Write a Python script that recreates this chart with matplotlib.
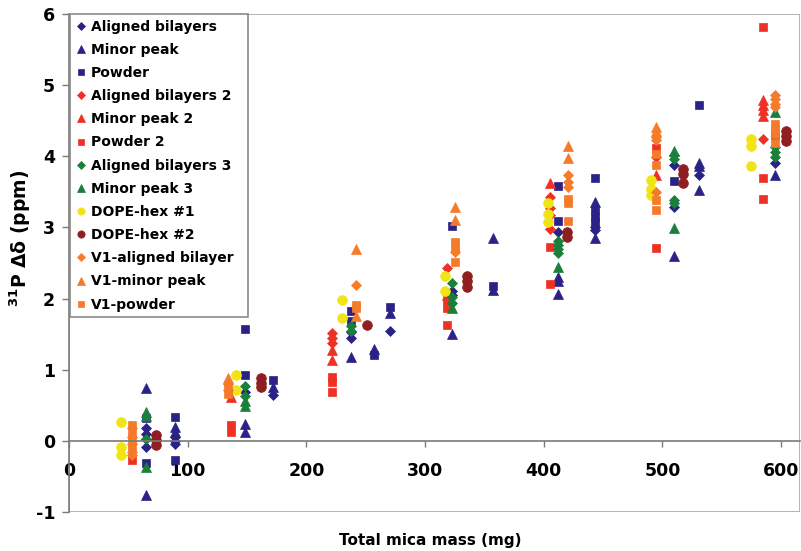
import matplotlib
matplotlib.use("Agg")
import matplotlib.pyplot as plt
from matplotlib.patches import Rectangle

plt.rcParams["font.family"] = ["DejaVu Sans"]
plt.rcParams["mathtext.default"] = "bf"
plt.rcParams["axes.unicode_minus"] = False

# ---- data: total mica mass (mg) vs 31P chemical shift difference (ppm) ----
ab1_x = [64.7, 64.7, 64.7, 64.7, 89, 89, 89, 148.5, 172, 238, 238, 270.6, 322.8, 322.8,
         411.8, 443, 443, 510, 510, 531, 594.7]
ab1_y = [0.18, 0.10, 0.03, -0.08, 0.06, 0.00, -0.04, 0.68, 0.65, 1.53, 1.45, 1.54, 2.10, 2.05,
         2.94, 2.96, 3.00, 3.88, 3.29, 3.74, 3.91]

mp1_x = [64.7, 64.7, 89, 89, 148.5, 148.5, 172, 238, 257, 270.6, 322.8, 357.4, 357.4,
         411.8, 411.8, 411.8, 443, 443, 510, 531, 531, 531, 594.7]
mp1_y = [0.74, -0.76, 0.20, 0.13, 0.24, 0.13, 0.76, 1.18, 1.29, 1.80, 1.50, 2.85, 2.12,
         2.31, 2.24, 2.07, 3.36, 2.85, 2.60, 3.91, 3.86, 3.52, 3.74]

pw1_x = [64.7, 64.7, 89, 89, 148.5, 148.5, 172, 238, 238, 257, 270.6, 322.8, 357.4,
         411.8, 411.8, 443, 443, 443, 443, 510, 531, 594.7]
pw1_y = [0.32, -0.31, 0.34, -0.27, 1.57, 0.92, 0.85, 1.82, 1.68, 1.21, 1.88, 3.02, 2.17,
         3.58, 3.09, 3.70, 3.24, 3.15, 3.08, 3.65, 4.72, 4.30]

ab2_x = [221.6, 221.6, 221.6, 318.6, 405, 405, 405, 405, 494.4, 584.6]
ab2_y = [1.51, 1.44, 1.37, 2.43, 3.43, 3.28, 3.18, 2.98, 3.99, 4.25]

mp2_x = [136.7, 221.6, 221.6, 318.6, 405, 494.4, 584.6, 584.6, 584.6, 584.6]
mp2_y = [0.62, 1.28, 1.14, 2.05, 3.62, 3.74, 4.79, 4.72, 4.65, 4.56]

pw2_x = [53.5, 136.7, 136.7, 221.6, 221.6, 221.6, 318.6, 318.6, 318.6, 405, 405,
         494.4, 494.4, 584.6, 584.6, 584.6]
pw2_y = [-0.27, 0.22, 0.13, 0.90, 0.83, 0.69, 1.98, 1.87, 1.63, 2.73, 2.20,
         4.11, 2.71, 5.82, 3.70, 3.40]

ab3_x = [64.7, 148.5, 148.5, 238, 238, 322.8, 322.8, 322.8, 411.8, 411.8, 411.8, 411.8,
         510, 510, 510, 510, 594.7, 594.7, 594.7]
ab3_y = [0.02, 0.77, 0.63, 1.62, 1.55, 2.22, 2.02, 1.94, 2.81, 2.75, 2.70, 2.64,
         4.02, 3.96, 3.38, 3.34, 4.13, 4.06, 3.99]

mp3_x = [64.7, 64.7, 64.7, 148.5, 148.5, 322.8, 411.8, 510, 510, 594.7]
mp3_y = [0.40, 0.35, -0.37, 0.56, 0.49, 1.87, 2.45, 4.08, 2.99, 4.62]

dope1_x = [43.4, 43.4, 43.4, 141, 141, 230, 230, 316.8, 316.8, 404, 404, 404,
           490.5, 490.5, 490.5, 574.5, 574.5, 574.5]
dope1_y = [0.26, -0.08, -0.20, 0.93, 0.72, 1.98, 1.72, 2.32, 2.10, 3.35, 3.19, 3.08,
           3.67, 3.54, 3.46, 4.24, 4.15, 3.86]

dope2_x = [73, 73, 73, 162, 162, 162, 251, 335, 335, 335, 419.5, 419.5,
           517, 517, 517, 604, 604, 604]
dope2_y = [0.08, 0.01, -0.06, 0.88, 0.81, 0.76, 1.63, 2.32, 2.24, 2.16, 2.93, 2.87,
           3.82, 3.75, 3.62, 4.36, 4.28, 4.22]

v1ab_x = [53.5, 53.5, 53.5, 53.5, 53.5, 134, 134, 242, 325, 420.5, 420.5, 420.5,
          494.4, 494.4, 494.4, 594.7, 594.7, 594.7, 594.7]
v1ab_y = [0.18, 0.05, -0.05, -0.15, -0.20, 0.80, 0.72, 2.19, 2.66, 3.74, 3.64, 3.57,
          4.27, 4.23, 3.50, 4.86, 4.80, 4.74, 4.69]

v1mp_x = [134, 242, 242, 325, 325, 420.5, 420.5, 494.4, 494.4]
v1mp_y = [0.88, 2.69, 1.75, 3.29, 3.10, 4.14, 3.98, 4.41, 4.35]

v1pw_x = [53.5, 53.5, 53.5, 53.5, 134, 134, 242, 242, 325, 325, 325, 420.5, 420.5, 420.5,
          494.4, 494.4, 494.4, 494.4, 594.7, 594.7, 594.7, 594.7]
v1pw_y = [0.22, 0.12, 0.02, -0.08, 0.76, 0.66, 1.91, 1.87, 2.80, 2.73, 2.51, 3.40, 3.34, 3.09,
          4.03, 3.88, 3.38, 3.24, 4.46, 4.39, 4.32, 4.19]

x_ticks = [0, 100, 200, 300, 400, 500, 600]
y_ticks = [-1, 0, 1, 2, 3, 4, 5, 6]

NAVY = "#2B2288"
RED = "#EE3124"
GREEN = "#1A7F3A"
YELLOW = "#F2E414"
BROWN = "#8E1E20"
ORANGE = "#F47B2A"

series = [
    ("Aligned bilayers", ab1_x, ab1_y, NAVY, "D", 5.0),
    ("Minor peak", mp1_x, mp1_y, NAVY, "^", 7.0),
    ("Powder", pw1_x, pw1_y, NAVY, "s", 6.0),
    ("Aligned bilayers 2", ab2_x, ab2_y, RED, "D", 5.0),
    ("Minor peak 2", mp2_x, mp2_y, RED, "^", 7.0),
    ("Powder 2", pw2_x, pw2_y, RED, "s", 6.0),
    ("Aligned bilayers 3", ab3_x, ab3_y, GREEN, "D", 5.0),
    ("Minor peak 3", mp3_x, mp3_y, GREEN, "^", 7.0),
    ("DOPE-hex #1", dope1_x, dope1_y, YELLOW, "o", 7.0),
    ("DOPE-hex #2", dope2_x, dope2_y, BROWN, "o", 7.0),
    ("V1-aligned bilayer", v1ab_x, v1ab_y, ORANGE, "D", 5.0),
    ("V1-minor peak", v1mp_x, v1mp_y, ORANGE, "^", 7.0),
    ("V1-powder", v1pw_x, v1pw_y, ORANGE, "s", 6.0),
]

W, H = 801, 551
ax_l, ax_r, ax_t, ax_b = 69, 800, 14, 512

fig = plt.figure(figsize=(W / 100, H / 100), dpi=100)
ax = fig.add_axes([ax_l / W, 1 - ax_b / H, (ax_r - ax_l) / W, (ax_b - ax_t) / H])

for label, xs, ys, color, marker, size in series:
    ax.plot(xs, ys, linestyle="none", marker=marker, markersize=size,
            color=color, markeredgecolor=color, markeredgewidth=0.5, label=label)

ax.set_xlim(0, 616)
ax.set_ylim(-1, 6)

# x axis crosses at y = 0; left axis stays at x = 0
for side in ("top", "right"):
    ax.spines[side].set_visible(False)
ax.spines["bottom"].set_position(("data", 0))
ax.spines["bottom"].set_color("#7a7a7a")
ax.spines["left"].set_color("#7a7a7a")
ax.spines["bottom"].set_linewidth(1.2)
ax.spines["left"].set_linewidth(1.2)

# plot-area border
ax.add_patch(Rectangle((0, 0), 1, 1, transform=ax.transAxes, fill=False,
                       edgecolor="#a8a8a8", linewidth=1.2, zorder=0.5))

ax.set_xticks(x_ticks)
ax.set_yticks(y_ticks)
ax.tick_params(axis="x", direction="out", length=4, width=1, color="#7a7a7a",
               pad=11, labelsize=12.5)
ax.tick_params(axis="y", direction="out", length=5, width=1, color="#7a7a7a",
               pad=5, labelsize=12.5)
for t in ax.get_xticklabels() + ax.get_yticklabels():
    t.set_fontweight("bold")

fig.text(430 / W, 1 - 541 / H, "Total mica mass (mg)", ha="center", va="center",
         fontsize=11, fontweight="bold")
ax.set_ylabel(r"$^{31}$P Δδ (ppm)", fontsize=13.5, fontweight="bold")
ax.yaxis.set_label_coords((33 - ax_l) / (ax_r - ax_l), 0.55)

leg_w = (248 - 70) / (ax_r - ax_l)
leg = ax.legend(loc="upper left", bbox_to_anchor=(0.002, 0.0, leg_w, 1.0),
                mode="expand", borderaxespad=0,
                frameon=True, fancybox=False, edgecolor="#8a8a8a", framealpha=1,
                handlelength=0.7, handletextpad=0.35, borderpad=0.4,
                labelspacing=0.66, markerscale=0.75,
                prop={"weight": "bold", "size": 10})
leg.get_frame().set_linewidth(1.2)

fig.savefig("out.png", dpi=100)
